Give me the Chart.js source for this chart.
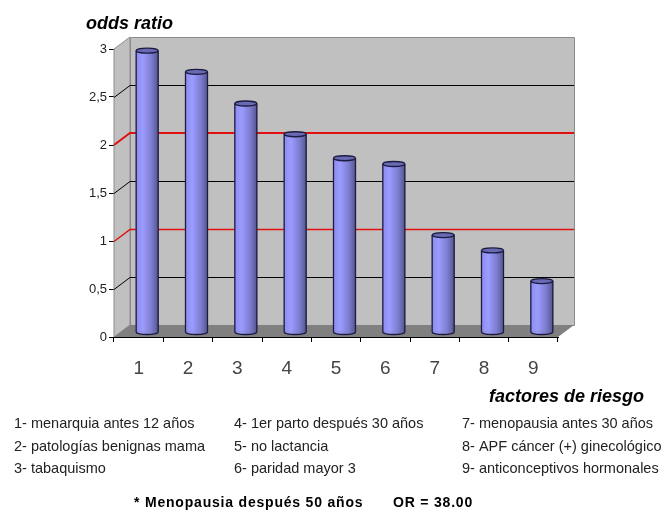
<!DOCTYPE html>
<html>
<head>
<meta charset="utf-8">
<title>odds ratio</title>
<script src="https://cdn.jsdelivr.net/npm/chart.js@4/dist/chart.umd.min.js"></script>
<style>
  html, body { margin: 0; padding: 0; background: #fff; }
  canvas { display: block; }
</style>
</head>
<body>
<canvas id="chart" width="667" height="513"></canvas>
<script>
const categories = ["1", "2", "3", "4", "5", "6", "7", "8", "9"];
const oddsRatio = [2.93, 2.71, 2.38, 2.06, 1.81, 1.75, 1.01, 0.85, 0.53];
const yTicks = ["0", "0,5", "1", "1,5", "2", "2,5", "3"];
const redLines = [1, 2]; // reference lines, drawn in red
const yTitle = "odds ratio";
const xTitle = "factores de riesgo";
const legendCol1 = ["1- menarquia antes 12 años", "2- patologías benignas mama", "3- tabaquismo"];
const legendCol2 = ["4- 1er parto después 30 años", "5- no lactancia", "6- paridad mayor 3"];
const legendCol3 = ["7- menopausia antes 30 años", "8- APF cáncer (+) ginecológico", "9- anticonceptivos hormonales"];
const footNote = "* Menopausia después 50 años";
const footValue = "OR = 38.00";

const DEPTH_X = 16, DEPTH_Y = 12; // 3d look of the box
const BAR_DX = 8.5, BAR_DY = 5;
const BAR_W = 22, CAP_H = 2.5;

function barGradient(context) {
    const chart = context.chart;
    const cx = chart.scales.x.getPixelForValue(context.dataIndex);
    // the options get resolved once before layout, no pixels yet
    if (!Number.isFinite(cx)) return "#8c8cf0";
    const g = chart.ctx.createLinearGradient(cx - BAR_W / 2, 0, cx + BAR_W / 2, 0);
    g.addColorStop(0, "#8c8cf0");
    g.addColorStop(0.3, "#9c9cff");
    g.addColorStop(0.7, "#7c7cd0");
    g.addColorStop(1, "#55558f");
    return g;
}

const box3d = {
    id: "box3d",
    beforeDatasetsDraw(chart) {
        const { ctx, chartArea: a, scales: { y } } = chart;
        const dx = DEPTH_X, dy = DEPTH_Y;
        ctx.save();
        // side wall
        ctx.fillStyle = "#c0c0c0";
        ctx.strokeStyle = "#8c8c8c";
        ctx.lineWidth = 1;
        ctx.beginPath();
        ctx.moveTo(a.left, a.top);
        ctx.lineTo(a.left + dx, a.top - dy);
        ctx.lineTo(a.left + dx, a.bottom - dy);
        ctx.lineTo(a.left, a.bottom);
        ctx.closePath();
        ctx.fill();
        ctx.stroke();
        // back wall
        ctx.beginPath();
        ctx.rect(a.left + dx + 0.5, a.top - dy + 0.5, a.right - a.left, a.bottom - a.top);
        ctx.fill();
        ctx.stroke();
        // floor
        ctx.fillStyle = "#808080";
        ctx.beginPath();
        ctx.moveTo(a.left, a.bottom);
        ctx.lineTo(a.left + dx, a.bottom - dy);
        ctx.lineTo(a.right + dx, a.bottom - dy);
        ctx.lineTo(a.right, a.bottom);
        ctx.closePath();
        ctx.fill();
        // grid lines, side wall then back wall
        y.ticks.forEach(t => {
            if (t.value === 0 || t.value === y.max) return;
            const py = Math.round(y.getPixelForValue(t.value));
            const red = redLines.includes(t.value);
            const thick = t.value === 2;
            const snap = thick ? 0 : 0.5;
            ctx.strokeStyle = red ? "#e01010" : "#000";
            ctx.lineWidth = thick ? 2 : (red ? 1.5 : 1);
            ctx.beginPath();
            ctx.moveTo(a.left, py + snap);
            ctx.lineTo(a.left + dx, py - dy + snap);
            ctx.lineTo(a.right + dx, py - dy + snap);
            ctx.stroke();
        });
        ctx.restore();
    },
    beforeDatasetDraw(chart) {
        chart.ctx.save();
        chart.ctx.translate(BAR_DX, -BAR_DY);
    },
    afterDatasetDraw(chart) {
        const { ctx } = chart;
        const base = chart.scales.y.getPixelForValue(0);
        chart.getDatasetMeta(0).data.forEach((bar, i) => {
            const left = bar.x - BAR_W / 2, right = bar.x + BAR_W / 2;
            // rounded foot
            ctx.fillStyle = barGradient({ chart, dataIndex: i });
            ctx.beginPath();
            ctx.ellipse(bar.x, base, BAR_W / 2, CAP_H, 0, 0, Math.PI);
            ctx.fill();
            // outline
            ctx.strokeStyle = "#1c1c40";
            ctx.lineWidth = 1.3;
            ctx.beginPath();
            ctx.moveTo(left, bar.y);
            ctx.lineTo(left, base);
            ctx.ellipse(bar.x, base, BAR_W / 2, CAP_H, 0, Math.PI, 0, true);
            ctx.lineTo(right, bar.y);
            ctx.stroke();
            // top cap
            ctx.fillStyle = "#6a6ab4";
            ctx.beginPath();
            ctx.ellipse(bar.x, bar.y, BAR_W / 2, CAP_H, 0, 0, Math.PI * 2);
            ctx.fill();
            ctx.stroke();
        });
        ctx.restore();
    },
    afterDraw(chart) {
        const { ctx } = chart;
        ctx.save();
        ctx.fillStyle = "#000";
        ctx.textBaseline = "alphabetic";
        ctx.font = "italic bold 18px 'Liberation Sans'";
        ctx.fillText(yTitle, 86, 29);
        ctx.fillText(xTitle, 489, 402);
        ctx.font = "14.5px 'Liberation Sans'";
        ctx.fillStyle = "#222";
        [[legendCol1, 14], [legendCol2, 234], [legendCol3, 462]].forEach(([lines, x]) => {
            lines.forEach((line, i) => ctx.fillText(line, x, 428 + i * 22.5));
        });
        ctx.fillStyle = "#000";
        ctx.font = "bold 14px 'Liberation Sans'";
        ctx.letterSpacing = "0.8px";
        ctx.fillText(footNote, 134, 507);
        ctx.fillText(footValue, 393, 507);
        ctx.restore();
    }
};

new Chart(document.getElementById("chart"), {
    type: "bar",
    data: {
        labels: categories,
        datasets: [{
            data: oddsRatio,
            backgroundColor: barGradient,
            borderWidth: 0,
            barThickness: BAR_W,
            clip: false
        }]
    },
    options: {
        responsive: false,
        animation: false,
        layout: { padding: { top: 49, right: 109, left: 0, bottom: 0 } },
        plugins: { legend: { display: false }, tooltip: { enabled: false } },
        scales: {
            x: {
                afterFit(scale) { scale.height = 176; },
                grid: { drawOnChartArea: false, color: "#000", tickLength: 5 },
                border: { color: "#000" },
                ticks: { color: "#444", font: { family: "Liberation Sans", size: 19 }, padding: 15, maxRotation: 0 }
            },
            y: {
                min: 0,
                max: 3,
                afterFit(scale) { scale.width = 114; },
                grid: { drawOnChartArea: false, color: "#000", tickLength: 5 },
                border: { color: "#000" },
                ticks: {
                    stepSize: 0.5,
                    color: "#222",
                    font: { family: "Liberation Sans", size: 13 },
                    padding: 2,
                    callback: (v, i) => yTicks[i]
                }
            }
        }
    },
    plugins: [box3d]
});
</script>
</body>
</html>
